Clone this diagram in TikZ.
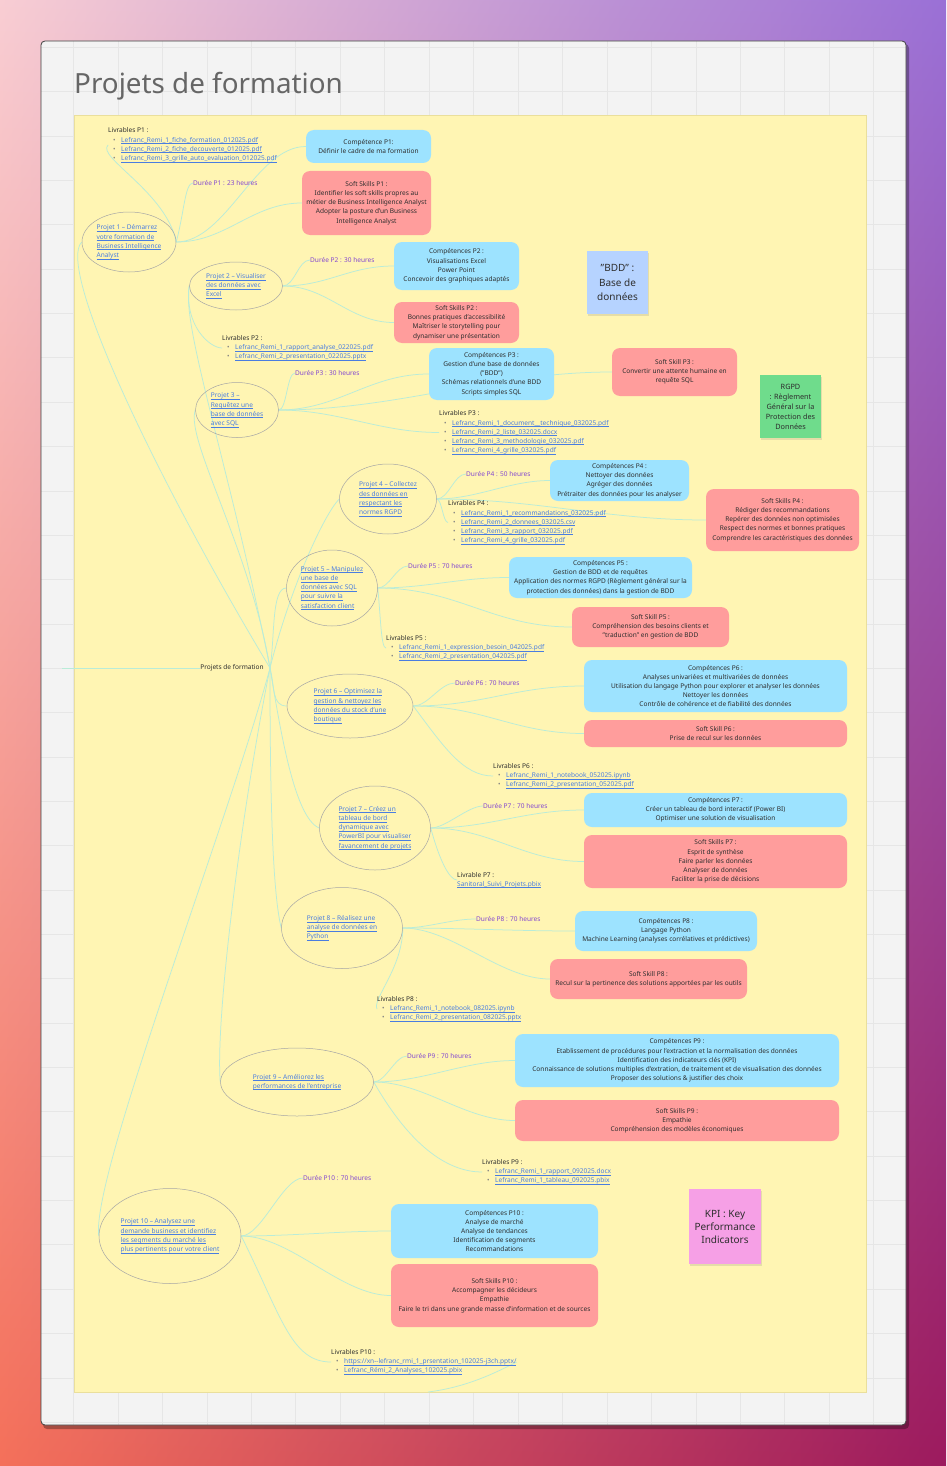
\documentclass[tikz,border=0pt]{standalone}
\usepackage{fontspec}
\setmainfont{Noto Sans}
\usetikzlibrary{shapes.geometric,shadows,shadings}
\pgfdeclarelayer{bg}
\pgfdeclarelayer{edges}
\pgfsetlayers{bg,edges,main}
\definecolor{yelC}{HTML}{FFF5B3}
\definecolor{yelB}{HTML}{EADF9C}
\definecolor{blueC}{HTML}{9DE3FF}
\definecolor{redC}{HTML}{FF9D9C}
\definecolor{linkC}{HTML}{4A7DE0}
\definecolor{durC}{HTML}{8448D0}
\definecolor{txtC}{HTML}{2E2E2E}
\definecolor{conC}{HTML}{B9ECD8}
\definecolor{panelC}{HTML}{F3F3F3}
\definecolor{gridC}{HTML}{E6E6E6}
\definecolor{greenS}{HTML}{6FDC8C}
\definecolor{blueS}{HTML}{B6D3FF}
\definecolor{pinkS}{HTML}{F6A0E6}
\definecolor{bgTL}{HTML}{F8CDD3}
\definecolor{bgTR}{HTML}{9A70D6}
\definecolor{bgBL}{HTML}{F4705A}
\definecolor{bgBR}{HTML}{9C1A5E}
\newcommand\smallf{\fontsize{6.55}{9.2}\selectfont}
\newcommand\lnk[1]{\leavevmode\begingroup\color{linkC}\setbox0\hbox{#1}\rlap{\raisebox{-1.4pt}{\rule{\wd0}{0.4pt}}}\box0\endgroup}
\newcommand\itm[1]{\hspace*{5pt}\makebox[8pt][l]{\textcolor{gray}{•}}\lnk{#1}}
\newcommand\mmlink[4]{\draw[con] (#1) .. controls +(#3) and +(#4) .. (#2);}
\begin{document}
\begin{tikzpicture}[x=1pt,y=-1pt,
  con/.style={draw=conC,line width=0.75pt},
  proj/.style={ellipse,draw=gray!70,line width=0.5pt,inner sep=0pt,align=left,text=linkC,font=\smallf},
  cbox/.style={rounded corners=8pt,fill=blueC,align=center,text=txtC,font=\smallf,inner sep=2pt},
  sbox/.style={rounded corners=8pt,fill=redC,align=center,text=txtC,font=\smallf,inner sep=2pt},
  dur/.style={anchor=west,inner sep=0pt,text=durC,font=\smallf},
  liv/.style={anchor=west,inner sep=0pt,align=left,text=txtC,font=\smallf},
  sticky/.style={align=center,text=txtC,inner sep=2pt,drop shadow={opacity=0.2,shadow xshift=1pt,shadow yshift=-1.5pt}}]
\useasboundingbox (0,0) rectangle (946,1466);
\begin{pgfonlayer}{bg}
\shade[upper left=bgTL,upper right=bgTR,lower left=bgBL,lower right=bgBR] (0,0) rectangle (946,1466);
\fill[black,opacity=0.3,rounded corners=4pt] (43,44) rectangle (909,1429);
\fill[panelC,rounded corners=4pt] (41,41) rectangle (906,1425);
\begin{scope}
\clip (41,41) rectangle (906,1425);
\foreach \k in {1,...,19} \draw[gridC,line width=0.5pt] (29+\k*44.45,41) -- (29+\k*44.45,1425);
\foreach \k in {0,...,31} \draw[gridC,line width=0.5pt] (41,47.25+\k*44.35) -- (906,47.25+\k*44.35);
\end{scope}
\draw[black!75,line width=0.8pt,rounded corners=4pt] (41,41) rectangle (906,1425);
\fill[yelC] (74,115) rectangle (866,1392);
\draw[yelB,line width=0.6pt] (74,115) rectangle (866,1392);
\end{pgfonlayer}

\node[anchor=base west,inner sep=0pt,text=black!60,font=\fontsize{27.8}{30}\selectfont] (title) at (74,94) {Projets de formation};

% root
\node[inner sep=0pt,text=txtC,font=\smallf] (root) at (232,668) {Projets de formation};
\coordinate (rootR) at (270,668);
\coordinate (leftin) at (62,668);

% projects
\node[proj,minimum width=94pt,minimum height=60pt] (p1) at (129,242) {\lnk{Projet 1 – Démarrez}\\\lnk{votre formation de}\\\lnk{Business Intelligence}\\\lnk{Analyst}};
\node[proj,minimum width=93pt,minimum height=48pt] (p2) at (236,286) {\lnk{Projet 2 – Visualiser}\\\lnk{des données avec}\\\lnk{Excel}};
\node[proj,minimum width=83pt,minimum height=55pt] (p3) at (237,410) {\lnk{Projet 3 –}\\\lnk{Requêtez une}\\\lnk{base de données}\\\lnk{avec SQL}};
\node[proj,minimum width=97pt,minimum height=70pt] (p4) at (388,499) {\lnk{Projet 4 – Collectez}\\\lnk{des données en}\\\lnk{respectant les}\\\lnk{normes RGPD}};
\node[proj,minimum width=91pt,minimum height=76pt] (p5) at (332,588) {\lnk{Projet 5 – Manipulez}\\\lnk{une base de}\\\lnk{données avec SQL}\\\lnk{pour suivre la}\\\lnk{satisfaction client}};
\node[proj,minimum width=126pt,minimum height=64pt] (p6) at (350,706) {\lnk{Projet 6 – Optimisez la}\\\lnk{gestion \& nettoyez les}\\\lnk{données du stock d'une}\\\lnk{boutique}};
\node[proj,minimum width=111pt,minimum height=84pt] (p7) at (375,828) {\lnk{Projet 7 – Créez un}\\\lnk{tableau de bord}\\\lnk{dynamique avec}\\\lnk{PowerBI pour visualiser}\\\lnk{l'avancement de projets}};
\node[proj,minimum width=121pt,minimum height=81pt] (p8) at (342,928) {\lnk{Projet 8 – Réalisez une}\\\lnk{analyse de données en}\\\lnk{Python}};
\node[proj,minimum width=153pt,minimum height=68pt] (p9) at (297,1082) {\lnk{Projet 9 – Améliorez les}\\\lnk{performances de l'entreprise}};
\node[proj,minimum width=142pt,minimum height=95pt] (p10) at (170,1236) {\lnk{Projet 10 – Analysez une}\\\lnk{demande business et identifiez}\\\lnk{les segments du marché les}\\\lnk{plus pertinents pour votre client}};

% boxes
\node[cbox,minimum width=125pt,minimum height=33pt] (c1) at (368.5,146.5) {Compétence P1:\\Définir le cadre de ma formation};
\node[sbox,minimum width=129pt,minimum height=64pt] (s1) at (366.5,203) {Soft Skills P1 :\\Identifier les soft skills propres au\\métier de Business Intelligence Analyst\\Adopter la posture d'un Business\\Intelligence Analyst};
\node[cbox,minimum width=125pt,minimum height=48pt] (c2) at (456.5,266) {Compétences P2 :\\Visualisations Excel\\Power Point\\Concevoir des graphiques adaptés};
\node[sbox,minimum width=125pt,minimum height=41pt] (s2) at (456.5,322.5) {Soft Skills P2 :\\Bonnes pratiques d'accessibilité\\Maîtriser le storytelling pour\\dynamiser une présentation};
\node[cbox,minimum width=125pt,minimum height=52pt] (c3) at (491.5,374) {Compétences P3 :\\Gestion d'une base de données\\("BDD")\\Schémas relationnels d'une BDD\\Scripts simples SQL};
\node[sbox,minimum width=125pt,minimum height=48pt] (s3) at (674.5,372) {Soft Skill P3 :\\Convertir une attente humaine en\\requête SQL};
\node[cbox,minimum width=139pt,minimum height=41pt] (c4) at (619.5,480.5) {Compétences P4 :\\Nettoyer des données\\Agréger des données\\Prétraiter des données pour les analyser};
\node[sbox,minimum width=153pt,minimum height=62pt] (s4) at (782.5,520) {Soft Skills P4 :\\Rédiger des recommandations\\Repérer des données non optimisées\\Respect des normes et bonnes pratiques\\Comprendre les caractéristiques des données};
\node[cbox,minimum width=183pt,minimum height=41pt] (c5) at (600.5,577.5) {Compétences P5 :\\Gestion de BDD et de requêtes\\Application des normes RGPD (Règlement général sur la\\protection des données) dans la gestion de BDD};
\node[sbox,minimum width=157pt,minimum height=40pt] (s5) at (650.5,627) {Soft Skill P5 :\\Compréhension des besoins clients et\\"traduction" en gestion de BDD};
\node[cbox,minimum width=263pt,minimum height=52pt] (c6) at (715.5,686) {Compétences P6 :\\Analyses univariées et multivariées de données\\Utilisation du langage Python pour explorer et analyser les données\\Nettoyer les données\\Contrôle de cohérence et de fiabilité des données};
\node[sbox,minimum width=263pt,minimum height=27pt] (s6) at (715.5,733.5) {Soft Skill P6 :\\Prise de recul sur les données};
\node[cbox,minimum width=263pt,minimum height=34pt] (c7) at (715.5,810) {Compétences P7 :\\Créer un tableau de bord interactif (Power BI)\\Optimiser une solution de visualisation};
\node[sbox,minimum width=263pt,minimum height=53pt] (s7) at (715.5,861.5) {Soft Skills P7 :\\Esprit de synthèse\\Faire parler les données\\Analyser de données\\Faciliter la prise de décisions};
\node[cbox,minimum width=182pt,minimum height=40pt] (c8) at (666,931) {Compétences P8 :\\Langage Python\\Machine Learning (analyses corrélatives et prédictives)};
\node[sbox,minimum width=197pt,minimum height=40pt] (s8) at (648.5,979) {Soft Skill P8 :\\Recul sur la pertinence des solutions apportées par les outils};
\node[cbox,minimum width=324pt,minimum height=53pt] (c9) at (677,1060.5) {Compétences P9 :\\Etablissement de procédures pour l'extraction et la normalisation des données\\Identification des indicateurs clés (KPI)\\Connaissance de solutions multiples d'extration, de traitement et de visualisation des données\\Proposer des solutions \& justifier des choix};
\node[sbox,minimum width=324pt,minimum height=41pt] (s9) at (677,1120.5) {Soft Skills P9 :\\Empathie\\Compréhension des modèles économiques};
\node[cbox,minimum width=207pt,minimum height=54pt] (c10) at (494.5,1231) {Compétences P10 :\\Analyse de marché\\Analyse de tendances\\Identification de segments\\Recommandations};
\node[sbox,minimum width=207pt,minimum height=63pt] (s10) at (494.5,1295.5) {Soft Skills P10 :\\Accompagner les décideurs\\Empathie\\Faire le tri dans une grande masse d'information et de sources};

% durations
\node[dur] (durp1) at (193,183) {Durée P1 : 23 heures};
\node[dur] (durp2) at (310,260) {Durée P2 : 30 heures};
\node[dur] (durp3) at (295,373) {Durée P3 : 30 heures};
\node[dur] (durp4) at (466,474) {Durée P4 : 50 heures};
\node[dur] (durp5) at (408,566) {Durée P5 : 70 heures};
\node[dur] (durp6) at (455,683) {Durée P6 : 70 heures};
\node[dur] (durp7) at (483,806) {Durée P7 : 70 heures};
\node[dur] (durp8) at (476,919) {Durée P8 : 70 heures};
\node[dur] (durp9) at (407,1056) {Durée P9 : 70 heures};
\node[dur] (durp10) at (303,1178) {Durée P10 : 70 heures};

% deliverables
\node[liv] (livp1) at (108,145) {Livrables P1 :\\\itm{Lefranc\_Remi\_1\_fiche\_formation\_012025.pdf}\\\itm{Lefranc\_Remi\_2\_fiche\_decouverte\_012025.pdf}\\\itm{Lefranc\_Remi\_3\_grille\_auto\_evaluation\_012025.pdf}};
\node[liv] (livp2) at (222,348) {Livrables P2 :\\\itm{Lefranc\_Remi\_1\_rapport\_analyse\_022025.pdf}\\\itm{Lefranc\_Remi\_2\_presentation\_022025.pptx}};
\node[liv] (livp3) at (439,432.5) {Livrables P3 :\\\itm{Lefranc\_Remi\_1\_document\_\_technique\_032025.pdf}\\\itm{Lefranc\_Remi\_2\_liste\_032025.docx}\\\itm{Lefranc\_Remi\_3\_methodologie\_032025.pdf}\\\itm{Lefranc\_Remi\_4\_grille\_032025.pdf}};
\node[liv] (livp4) at (448,522.5) {Livrables P4 :\\\itm{Lefranc\_Remi\_1\_recommandations\_032025.pdf}\\\itm{Lefranc\_Remi\_2\_donnees\_032025.csv}\\\itm{Lefranc\_Remi\_3\_rapport\_032025.pdf}\\\itm{Lefranc\_Remi\_4\_grille\_032025.pdf}};
\node[liv] (livp5) at (386,648) {Livrables P5 :\\\itm{Lefranc\_Remi\_1\_expression\_besoin\_042025.pdf}\\\itm{Lefranc\_Remi\_2\_presentation\_042025.pdf}};
\node[liv] (livp6) at (493,776) {Livrables P6 :\\\itm{Lefranc\_Remi\_1\_notebook\_052025.ipynb}\\\itm{Lefranc\_Remi\_2\_presentation\_052025.pdf}};
\node[liv] (livp7) at (457,880) {Livrable P7 :\\\lnk{Sanitoral\_Suivi\_Projets.pbix}};
\node[liv] (livp8) at (377,1009) {Livrables P8 :\\\itm{Lefranc\_Remi\_1\_notebook\_082025.ipynb}\\\itm{Lefranc\_Remi\_2\_presentation\_082025.pptx}};
\node[liv] (livp9) at (482,1172) {Livrables P9 :\\\itm{Lefranc\_Remi\_1\_rapport\_092025.docx}\\\itm{Lefranc\_Remi\_1\_tableau\_092025.pbix}};
\node[liv] (livp10) at (331,1362) {Livrables P10 :\\\itm{https://xn-{}-lefranc\_rmi\_1\_prsentation\_102025-j3ch.pptx/}\\\itm{Lefranc\_Rémi\_2\_Analyses\_102025.pbix}};
\coordinate (strayend) at (428,1392);

% sticky notes
\node[sticky,fill=blueS,minimum width=61pt,minimum height=63pt,font=\fontsize{10}{14.5}\selectfont] (bdd) at (617.5,282.5) {"BDD" :\\Base de\\données};
\node[sticky,fill=greenS,minimum width=61pt,minimum height=63pt,font=\fontsize{7.3}{10}\selectfont] (rgpd) at (790.5,406.5) {RGPD\\: Règlement\\Général sur la\\Protection des\\Données};
\node[sticky,fill=pinkS,minimum width=72pt,minimum height=75pt,font=\fontsize{10}{13}\selectfont] (kpi) at (725,1226.5) {KPI : Key\\Performance\\Indicators};

\begin{pgfonlayer}{edges}
\draw[con] (leftin) -- (root.west);
\mmlink{rootR}{p1.west}{-120,-200}{-25,25}
\mmlink{rootR}{p2.west}{-40,-200}{-8,40}
\mmlink{rootR}{p3.west}{-20,-120}{-10,30}
\mmlink{rootR}{p4.west}{20,-80}{-15,15}
\mmlink{rootR}{p5.west}{5,-30}{-15,0}
\mmlink{rootR}{p6.west}{5,20}{-15,0}
\mmlink{rootR}{p7.west}{10,60}{-25,-10}
\mmlink{rootR}{p8.west}{0,100}{-10,-40}
\mmlink{rootR}{p9.west}{-30,150}{-5,-60}
\mmlink{rootR}{p10.west}{-40,150}{-8,-60}
% P1
\mmlink{p1.east}{livp1.west}{-10,-50}{-12,12}
\mmlink{p1.east}{durp1.west}{8,-30}{-8,0}
\mmlink{p1.east}{c1.west}{50,0}{-50,0}
\mmlink{p1.east}{s1.west}{50,0}{-50,0}
% P2
\mmlink{p2.east}{durp2.west}{12,0}{-12,0}
\mmlink{p2.east}{c2.west}{45,0}{-45,0}
\mmlink{p2.east}{s2.west}{45,0}{-45,0}
\mmlink{p2.west}{livp2.west}{-5,40}{-12,0}
% P3
\mmlink{p3.east}{durp3.west}{8,0}{-8,0}
\mmlink{p3.east}{c3.west}{60,0}{-60,0}
\mmlink{p3.east}{s3.west}{120,0}{-120,0}
\mmlink{p3.east}{livp3.west}{60,0}{-60,0}
% P4
\mmlink{p4.east}{durp4.west}{12,0}{-12,0}
\mmlink{p4.east}{c4.west}{40,0}{-40,0}
\mmlink{p4.east}{livp4.west}{5,0}{-5,0}
\mmlink{p4.east}{s4.west}{100,0}{-100,0}
% P5
\mmlink{p5.east}{durp5.west}{12,0}{-12,0}
\mmlink{p5.east}{c5.west}{50,0}{-50,0}
\mmlink{p5.east}{s5.west}{80,0}{-80,0}
\mmlink{p5.east}{livp5.west}{3,30}{-5,0}
% P6
\mmlink{p6.east}{durp6.west}{15,0}{-15,0}
\mmlink{p6.east}{c6.west}{70,0}{-70,0}
\mmlink{p6.east}{s6.west}{70,0}{-70,0}
\mmlink{p6.east}{livp6.west}{30,40}{-30,0}
% P7
\mmlink{p7.east}{durp7.west}{15,0}{-15,0}
\mmlink{p7.east}{c7.west}{60,0}{-60,0}
\mmlink{p7.east}{s7.west}{60,0}{-60,0}
\mmlink{p7.east}{livp7.west}{8,30}{-8,0}
% P8
\mmlink{p8.east}{durp8.west}{25,0}{-25,0}
\mmlink{p8.east}{c8.west}{60,0}{-60,0}
\mmlink{p8.east}{s8.west}{50,0}{-50,0}
\mmlink{p8.east}{livp8.west}{0,40}{-5,-10}
% P9
\mmlink{p9.east}{durp9.west}{12,0}{-12,0}
\mmlink{p9.east}{c9.west}{50,0}{-50,0}
\mmlink{p9.east}{s9.west}{50,0}{-50,0}
\mmlink{p9.east}{livp9.west}{40,70}{-30,0}
% P10
\mmlink{p10.east}{durp10.west}{20,0}{-20,0}
\mmlink{p10.east}{c10.west}{50,0}{-50,0}
\mmlink{p10.east}{s10.west}{50,0}{-50,0}
\mmlink{p10.east}{livp10.west}{40,80}{-40,0}
\mmlink{livp10.east}{strayend}{-20,10}{40,-5}
\end{pgfonlayer}
\end{tikzpicture}
\end{document}
